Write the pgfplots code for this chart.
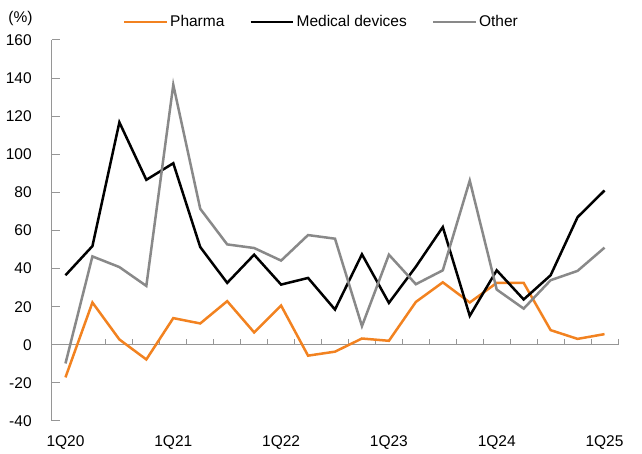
\documentclass[border=0pt]{standalone}
\usepackage{pgfplots}
\pgfplotsset{compat=1.18}
\usepackage{fontspec}
\setmainfont{Liberation Sans}
\definecolor{pharma}{RGB}{242,130,32}
\definecolor{othergray}{RGB}{137,137,137}
\definecolor{axgray}{RGB}{150,150,150}
\begin{document}
\fontsize{15.5}{18}\selectfont
\begin{tikzpicture}
\path[use as bounding box] (-52pt,-33pt) rectangle (590pt,421pt);
\begin{axis}[
  at={(0,0)}, anchor=south west,
  scale only axis, width=566pt, height=381pt,
  xmin=-0.5, xmax=20.5, ymin=-40, ymax=160,
  axis x line*=bottom, axis y line*=left,
  x axis line style={draw=none},
  y axis line style={axgray, line width=1pt},
  xtick={0,4,8,12,16,20},
  xticklabels={1Q20,1Q21,1Q22,1Q23,1Q24,1Q25},
  major x tick style={draw=none},
  xticklabel style={yshift=-9pt},
  ytick={-40,-20,...,160},
  tick align=inside,
  major y tick style={axgray, line width=1pt},
  major tick length=8pt,
  yticklabel style={xshift=-15pt},
  /pgf/number format/assume math mode=true,
  ticklabel style={font=\fontsize{15.5}{18}\selectfont},
  clip=false,
  legend columns=3,
  legend style={draw=none, fill=none, at={(rel axis cs:0.476,1)}, anchor=center, yshift=18pt,
    font=\fontsize{15.5}{18}\selectfont, /tikz/every even column/.append style={column sep=23pt}},
  legend image code/.code={\draw[#1, line width=2.5pt] (0,0) -- (1.5cm,0);},
]
\draw[axgray, line width=1pt] (axis cs:-0.5,0) -- (axis cs:20.5,0);
\pgfplotsinvokeforeach{-0.5,0.5,...,20.5}{\draw[axgray, line width=1pt] (axis cs:#1,0) -- ([yshift=5.5pt]axis cs:#1,0);}
\addplot[pharma, line width=2.5pt] coordinates {
(0,-17.1) (1,22.2) (2,2.8) (3,-7.7) (4,14.0) (5,11.2) (6,22.9) (7,6.5) (8,20.6) (9,-5.7)
(10,-3.6) (11,3.3) (12,2.1) (13,22.5) (14,32.8) (15,22.2) (16,32.5) (17,32.5) (18,7.7) (19,3.1) (20,5.6)};
\addlegendentry{Pharma}
\addplot[black, line width=2.5pt] coordinates {
(0,36.5) (1,51.8) (2,116.8) (3,86.6) (4,95.3) (5,51.3) (6,32.5) (7,47.3) (8,31.6) (9,35.1)
(10,18.5) (11,47.5) (12,22.0) (13,41.0) (14,61.8) (15,15.2) (16,39.1) (17,23.8) (18,36.5) (19,67.0) (20,81.0)};
\addlegendentry{Medical devices}
\addplot[othergray, line width=2.5pt] coordinates {
(0,-9.8) (1,46.4) (2,40.8) (3,30.9) (4,136.5) (5,71.4) (6,52.7) (7,50.8) (8,44.2) (9,57.6)
(10,55.7) (11,9.8) (12,47.3) (13,31.8) (14,39.1) (15,86.2) (16,29.0) (17,19.0) (18,33.9) (19,38.8) (20,51.0)};
\addlegendentry{Other}
\node[anchor=west, font=\fontsize{15.5}{18}\selectfont] at (rel axis cs:0,1) [xshift=-49pt, yshift=22pt] {(\%)};
\end{axis}
\end{tikzpicture}
\end{document}
